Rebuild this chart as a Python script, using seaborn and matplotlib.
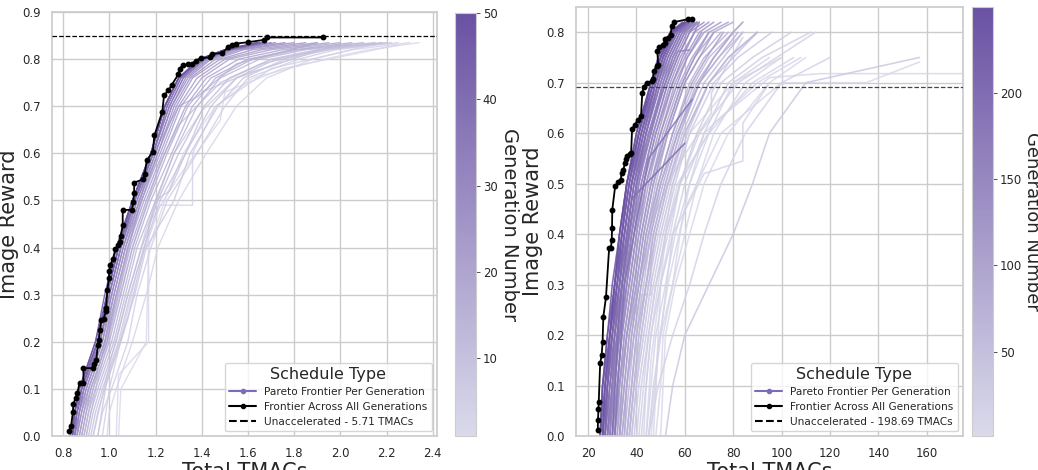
import matplotlib
matplotlib.use("Agg")
import matplotlib.pyplot as plt
import pandas as pd
import seaborn as sns
from matplotlib.colors import LinearSegmentedColormap, Normalize
from matplotlib.cm import ScalarMappable
from matplotlib.lines import Line2D

# ---------------------------------------------------------------------------
# Data
# ---------------------------------------------------------------------------

# left panel: per-generation Pareto frontiers, x (TMACs) at shared reward levels
LEFT_LEVELS = [0.00, 0.05, 0.10, 0.20, 0.30, 0.40, 0.50, 0.60, 0.70, 0.76, 0.80, 0.82, 0.835]
LEFT_GENS = [1, 3, 5, 7, 9, 11, 13, 15, 17, 19, 21, 23, 25, 27, 29, 31, 33, 35, 37, 39, 41, 43, 45, 47, 49]
LEFT_X = [
    [1.04, 1.045, 1.05, 1.16, 1.165, 1.17, 1.24, 1.32, 1.46, 1.62, 1.93, 2.12, 2.34],
    [0.99, 1.00, 1.03, 1.10, 1.16, 1.21, 1.30, 1.42, 1.55, 1.68, 1.88, 2.05, 2.30],
    [0.95, 0.97, 1.01, 1.08, 1.12, 1.18, 1.25, 1.38, 1.50, 1.60, 1.82, 1.98, 2.25],
    [0.93, 0.95, 0.98, 1.05, 1.11, 1.16, 1.28, 1.35, 1.47, 1.58, 1.76, 1.95, 2.22],
    [0.92, 0.94, 0.97, 1.04, 1.09, 1.15, 1.22, 1.33, 1.44, 1.55, 1.72, 1.92, 2.20],
    [0.91, 0.93, 0.96, 1.03, 1.08, 1.14, 1.21, 1.30, 1.41, 1.52, 1.70, 1.90, 2.18],
    [0.90, 0.92, 0.95, 1.02, 1.07, 1.12, 1.20, 1.28, 1.38, 1.48, 1.65, 1.85, 2.15],
    [0.89, 0.91, 0.94, 1.01, 1.06, 1.11, 1.18, 1.27, 1.36, 1.46, 1.62, 1.82, 2.10],
    [0.88, 0.90, 0.93, 1.00, 1.05, 1.10, 1.17, 1.25, 1.34, 1.44, 1.60, 1.80, 2.05],
    [0.88, 0.90, 0.92, 0.99, 1.04, 1.09, 1.16, 1.24, 1.33, 1.42, 1.56, 1.75, 2.00],
    [0.87, 0.89, 0.92, 0.99, 1.03, 1.08, 1.15, 1.23, 1.31, 1.40, 1.52, 1.70, 1.95],
    [0.87, 0.89, 0.91, 0.98, 1.03, 1.08, 1.14, 1.22, 1.30, 1.38, 1.50, 1.66, 1.90],
    [0.86, 0.88, 0.91, 0.98, 1.02, 1.07, 1.14, 1.21, 1.29, 1.36, 1.48, 1.62, 1.85],
    [0.86, 0.88, 0.90, 0.97, 1.02, 1.07, 1.13, 1.21, 1.28, 1.35, 1.46, 1.58, 1.80],
    [0.86, 0.87, 0.90, 0.97, 1.01, 1.06, 1.13, 1.20, 1.27, 1.34, 1.44, 1.56, 1.76],
    [0.85, 0.87, 0.89, 0.96, 1.01, 1.06, 1.12, 1.20, 1.27, 1.33, 1.43, 1.54, 1.72],
    [0.85, 0.87, 0.89, 0.96, 1.00, 1.05, 1.12, 1.19, 1.26, 1.32, 1.42, 1.53, 1.70],
    [0.85, 0.86, 0.89, 0.96, 1.00, 1.05, 1.11, 1.19, 1.26, 1.32, 1.41, 1.52, 1.68],
    [0.85, 0.86, 0.88, 0.96, 1.00, 1.05, 1.11, 1.19, 1.25, 1.31, 1.41, 1.52, 1.67],
    [0.84, 0.86, 0.88, 0.95, 0.99, 1.04, 1.11, 1.19, 1.25, 1.31, 1.40, 1.51, 1.66],
    [0.84, 0.86, 0.88, 0.95, 0.99, 1.04, 1.11, 1.18, 1.24, 1.30, 1.40, 1.51, 1.66],
    [0.84, 0.85, 0.88, 0.95, 0.99, 1.04, 1.10, 1.18, 1.24, 1.30, 1.40, 1.50, 1.65],
    [0.84, 0.85, 0.87, 0.95, 0.99, 1.04, 1.10, 1.18, 1.24, 1.30, 1.39, 1.50, 1.65],
    [0.84, 0.85, 0.87, 0.94, 0.99, 1.03, 1.10, 1.18, 1.24, 1.30, 1.39, 1.50, 1.64],
    [0.83, 0.85, 0.87, 0.94, 0.98, 1.03, 1.10, 1.18, 1.24, 1.30, 1.39, 1.50, 1.64],
]
# a few irregular (stepped) frontiers drawn with their own points
LEFT_EXTRA_GENS = [2, 4, 6, 8, 10, 14]
LEFT_EXTRA_X = [
    [1.03, 1.04, 1.17, 1.17, 1.30, 1.48, 1.50, 1.75, 2.25],
    [0.97, 1.00, 1.12, 1.22, 1.36, 1.36, 1.46, 1.70, 2.18],
    [0.93, 1.00, 1.08, 1.16, 1.28, 1.40, 1.55, 1.85, 2.05],
    [0.95, 0.99, 1.08, 1.20, 1.26, 1.40, 1.40, 1.60, 1.92],
    [0.90, 0.95, 1.02, 1.10, 1.22, 1.30, 1.48, 1.66, 2.00],
    [0.89, 0.93, 1.01, 1.13, 1.17, 1.30, 1.38, 1.55, 1.90],
]
LEFT_EXTRA_Y = [
    [0.00, 0.13, 0.20, 0.45, 0.55, 0.67, 0.73, 0.78, 0.83],
    [0.00, 0.10, 0.35, 0.49, 0.49, 0.60, 0.70, 0.78, 0.835],
    [0.00, 0.15, 0.30, 0.44, 0.60, 0.69, 0.76, 0.81, 0.83],
    [0.00, 0.12, 0.25, 0.50, 0.52, 0.68, 0.73, 0.77, 0.82],
    [0.00, 0.12, 0.25, 0.40, 0.58, 0.66, 0.75, 0.79, 0.83],
    [0.00, 0.10, 0.25, 0.49, 0.58, 0.70, 0.72, 0.79, 0.835],
]
LEFT_FRONT_X = [0.826, 0.835, 0.842, 0.845, 0.854, 0.862, 0.871, 0.888, 0.888, 0.931,
                0.934, 0.943, 0.951, 0.954, 0.960, 0.964, 0.975, 0.986, 0.986, 0.992,
                0.998, 1.000, 1.003, 1.015, 1.026, 1.039, 1.046, 1.049, 1.058, 1.058,
                1.097, 1.104, 1.107, 1.108, 1.147, 1.153, 1.162, 1.188, 1.195, 1.229,
                1.237, 1.256, 1.270, 1.299, 1.306, 1.317, 1.342, 1.357, 1.375, 1.395,
                1.436, 1.444, 1.489, 1.513, 1.532, 1.548, 1.601, 1.671, 1.681, 1.926]
LEFT_FRONT_Y = [0.011, 0.022, 0.050, 0.069, 0.080, 0.092, 0.112, 0.112, 0.144, 0.144,
                0.152, 0.161, 0.193, 0.203, 0.225, 0.246, 0.249, 0.265, 0.272, 0.311,
                0.335, 0.350, 0.362, 0.375, 0.396, 0.405, 0.412, 0.424, 0.447, 0.480,
                0.480, 0.497, 0.515, 0.538, 0.545, 0.556, 0.585, 0.603, 0.638, 0.688,
                0.723, 0.734, 0.745, 0.768, 0.780, 0.787, 0.789, 0.790, 0.797, 0.802,
                0.804, 0.811, 0.813, 0.825, 0.830, 0.833, 0.836, 0.841, 0.846, 0.846]
LEFT_BASELINE = 0.85

# right panel
RIGHT_LEVELS = [0.00, 0.10, 0.20, 0.30, 0.40, 0.50, 0.60, 0.70, 0.75, 0.80, 0.82]
RIGHT_GENS = [2, 3, 5, 8, 10, 12, 15, 18, 20, 25, 30, 35, 40, 45, 50, 55,
              60, 65, 70, 75, 80, 85, 90, 95, 100, 105, 110, 115, 120, 125, 130, 135, 140, 145,
              150, 155, 160, 165, 170, 175, 180, 185, 190, 195, 200, 205, 210, 215, 220, 225,
              230, 235, 240, 245, 250]
RIGHT_X = [
    [50, 51, 52, 56, 62, 68, 78, 95, 110],
    [46, 48, 49, 50, 52, 55, 62, 80, 100],
    [48, 50, 51, 55, 58, 62, 68, 90, 108],
    [45, 47, 50, 55, 60, 65, 72, 85, 100],
    [43, 44, 46, 49, 52, 57, 70, 88, 105],
    [44, 46, 48, 52, 56, 62, 70, 80, 95],
    [45, 49, 55, 62, 68, 75, 85, 100, 120],
    [41, 43, 45, 48, 53, 58, 66, 82, 98, 114],
    [42, 44, 46, 50, 55, 60, 68, 78, 92, 112],
    [40, 42, 45, 48, 52, 58, 65, 75, 88, 104],
    [39, 41, 44, 47, 51, 56, 62, 72, 82, 96],
    [52, 55, 60, 70, 80, 88, 95, 110, 157],
    [38, 40, 42, 45, 49, 54, 60, 70, 80, 90],
    [38, 40, 43, 46, 50, 55, 61, 70, 78, 90],
    [37, 39, 41, 44, 47, 52, 58, 66, 74, 84],
    [37, 39, 42, 45, 48, 53, 59, 68, 76, 84],
    [36, 38, 40, 43, 46, 50, 56, 64, 70, 80, 84],
    [37, 39, 41, 44, 48, 53, 60, 70, 78, 90],
    [35, 37, 39, 42, 45, 49, 55, 62, 68, 78],
    [36, 38, 40, 44, 47, 52, 58, 66, 74, 82],
    [34, 36, 38, 41, 44, 48, 53, 60, 66, 75],
    [35, 36, 39, 42, 46, 51, 57, 65, 72, 80, 84],
    [33, 35, 37, 40, 43, 47, 52, 59, 64, 72, 80],
    [34, 36, 38, 41, 45, 50, 57, 66, 72, 80],
    [32, 34, 36, 39, 42, 46, 51, 58, 63, 70, 78],
    [33, 35, 37, 41, 44, 49, 55, 63, 69, 76],
    [32, 33, 35, 38, 41, 45, 50, 56, 61, 68, 75],
    [33, 34, 36, 40, 43, 47, 53, 60, 66, 72],
    [31, 33, 35, 38, 41, 44, 49, 55, 60, 66, 72],
    [31, 33, 36, 39, 42, 46, 52, 59, 64, 70],
    [30, 32, 34, 37, 40, 43, 48, 54, 58, 64, 70],
    [31, 32, 34, 37, 40, 44, 50, 57, 61, 67],
    [30, 31, 33, 36, 39, 42, 47, 53, 57, 62, 68],
    [30, 32, 34, 36, 39, 43, 48, 55, 59, 64, 66],
    [29, 31, 33, 35, 38, 41, 46, 52, 56, 61, 66],
    [29, 30, 33, 36, 38, 42, 47, 53, 57, 62, 65],
    [29, 30, 32, 35, 37, 40, 45, 51, 55, 60, 65],
    [28, 30, 33, 35, 38, 41, 45, 52, 55, 60, 64],
    [28, 30, 32, 34, 37, 40, 44, 50, 54, 59, 64],
    [28, 30, 31, 34, 37, 40, 46, 51, 54, 59, 63],
    [28, 29, 31, 34, 36, 39, 44, 49, 53, 58, 63],
    [27, 29, 32, 34, 37, 40, 44, 50, 53, 58, 62],
    [27, 29, 31, 33, 36, 39, 43, 49, 52, 57, 62],
    [27, 28, 31, 33, 36, 39, 44, 49, 52, 57, 62],
    [27, 28, 30, 33, 35, 38, 43, 48, 52, 56, 62],
    [26, 28, 30, 33, 35, 38, 43, 48, 51, 56, 61],
    [27, 28, 30, 32, 35, 38, 42, 48, 51, 56, 61],
    [26, 27, 30, 32, 35, 38, 42, 48, 51, 55, 60],
    [26, 28, 29, 32, 34, 37, 42, 47, 51, 55, 61],
    [25, 27, 29, 32, 34, 37, 41, 47, 50, 55, 60],
    [26, 27, 29, 31, 34, 37, 41, 47, 50, 55, 60],
    [25, 26, 29, 31, 34, 36, 41, 46, 50, 54, 60],
    [26, 27, 29, 31, 33, 36, 41, 46, 50, 54, 60],
    [25, 26, 28, 31, 33, 36, 40, 46, 49, 54, 59],
    [25, 26, 28, 30, 33, 36, 40, 46, 49, 54, 60],
]
RIGHT_EXTRA_GENS = [4, 6, 12, 20, 160, 190, 200]
RIGHT_EXTRA_X = [
    [47, 49, 53, 60, 75, 100, 135, 157],
    [44, 46, 50, 58, 72, 95, 116, 180],
    [45, 50, 55, 68, 84, 84, 95],
    [36, 40, 42, 46, 46, 55, 71, 71, 84],
    [29, 34, 42, 52, 57, 62],
    [31, 35, 45, 63],
    [30, 33, 38, 60],
]
RIGHT_EXTRA_Y = [
    [0.00, 0.18, 0.30, 0.45, 0.60, 0.70, 0.70, 0.741],
    [0.00, 0.15, 0.30, 0.50, 0.62, 0.71, 0.718, 0.718],
    [0.00, 0.20, 0.40, 0.52, 0.545, 0.62, 0.70],
    [0.00, 0.20, 0.28, 0.28, 0.42, 0.52, 0.64, 0.68, 0.79],
    [0.00, 0.30, 0.55, 0.70, 0.762, 0.765],
    [0.00, 0.30, 0.55, 0.667],
    [0.00, 0.25, 0.47, 0.58],
]
RIGHT_FRONT_X = [24.0, 24.1, 24.3, 24.4, 25.0, 25.6, 26.0, 26.3, 27.4, 28.7, 29.4, 29.8,
                 29.9, 30.0, 31.2, 32.5, 33.5, 33.9, 34.6, 35.3, 35.7, 36.2, 37.3, 37.8,
                 38.2, 39.4, 40.5, 41.9, 42.4, 43.1, 44.2, 46.3, 46.7, 47.4, 48.3, 49.0,
                 48.6, 49.4, 51.1, 51.8, 52.0, 53.1, 54.1, 54.6, 55.5, 61.4, 62.8]
RIGHT_FRONT_Y = [0.012, 0.032, 0.054, 0.067, 0.144, 0.160, 0.186, 0.236, 0.275, 0.372, 0.372, 0.389,
                 0.412, 0.448, 0.495, 0.503, 0.508, 0.521, 0.528, 0.541, 0.548, 0.554, 0.558, 0.560,
                 0.609, 0.617, 0.626, 0.634, 0.680, 0.692, 0.700, 0.703, 0.707, 0.723, 0.733, 0.736,
                 0.763, 0.770, 0.774, 0.778, 0.786, 0.789, 0.794, 0.813, 0.820, 0.826, 0.826]
RIGHT_BASELINE = 0.692

CMAP = LinearSegmentedColormap.from_list("gen", ["#dadaeb", "#6a51a3"])


def to_long(levels, gens, xs_rows, extra_gens, extra_x, extra_y):
    rows = []
    line = 0
    for g, xs in zip(gens, xs_rows):
        for x, y in zip(xs, levels):
            rows.append({"line": line, "gen": g, "x": x, "y": y})
        line += 1
    for g, xs, ys in zip(extra_gens, extra_x, extra_y):
        for x, y in zip(xs, ys):
            rows.append({"line": line, "gen": g, "x": x, "y": y})
        line += 1
    return pd.DataFrame(rows).sort_values(["gen", "line"], kind="stable")


def draw_panel(ax, cax, df, gmax, front_x, front_y, baseline, base_label,
               base_color, xlim, ylim, cticks, cb_pad, cb_size, lw):
    norm = Normalize(1, gmax)
    sns.lineplot(data=df, x="x", y="y", hue="gen", units="line", estimator=None,
                 sort=False, palette=CMAP, hue_norm=norm, linewidth=lw,
                 alpha=0.85, legend=False, ax=ax)
    ax.plot(front_x, front_y, color="black", marker="o", ms=3.2, lw=1.3, zorder=5)
    ax.axhline(baseline, color=base_color, ls="--", lw=0.9, zorder=4)
    ax.set_xlim(*xlim)
    ax.set_ylim(*ylim)
    ax.set_xlabel("Total TMACs", fontsize=15, labelpad=1)
    ax.set_ylabel("Image Reward", fontsize=15, labelpad=2)
    ax.tick_params(labelsize=8.4, pad=2)

    handles = [
        Line2D([], [], color="#7e6bb8", marker="o", ms=3, lw=1.5),
        Line2D([], [], color="black", marker="o", ms=3, lw=1.5),
        Line2D([], [], color="black", ls="--", lw=1.5),
    ]
    labels = ["Pareto Frontier Per Generation", "Frontier Across All Generations",
              base_label]
    ax.legend(handles, labels, title="Schedule Type", loc="lower right",
              fontsize=7.6, title_fontsize=11.5, frameon=True,
              handlelength=2.5, labelspacing=0.45)

    sm = ScalarMappable(norm=norm, cmap=CMAP)
    cb = plt.colorbar(sm, cax=cax, ticks=cticks)
    cb.outline.set_edgecolor("#cccccc")
    cb.outline.set_linewidth(0.8)
    cb.ax.tick_params(labelsize=8.4, length=3, width=0.6, color="#333333", pad=2)
    cb.set_label("Generation Number", rotation=270, fontsize=cb_size, labelpad=cb_pad)


def main():
    sns.set_theme(style="whitegrid")
    fig = plt.figure(figsize=(10.38, 4.70), dpi=100)

    ax_l = fig.add_axes([0.0501, 0.0723, 0.3709, 0.9021])
    cax_l = fig.add_axes([0.4383, 0.0723, 0.0202, 0.9000])
    ax_r = fig.add_axes([0.5549, 0.0723, 0.3728, 0.9128])
    cax_r = fig.add_axes([0.9364, 0.0723, 0.0202, 0.9128])

    df_l = to_long(LEFT_LEVELS, LEFT_GENS, LEFT_X,
                   LEFT_EXTRA_GENS, LEFT_EXTRA_X, LEFT_EXTRA_Y)
    df_r = to_long(RIGHT_LEVELS, RIGHT_GENS, RIGHT_X,
                   RIGHT_EXTRA_GENS, RIGHT_EXTRA_X, RIGHT_EXTRA_Y)

    draw_panel(ax_l, cax_l, df_l, 50, LEFT_FRONT_X, LEFT_FRONT_Y, LEFT_BASELINE,
               "Unaccelerated - 5.71 TMACs", "black", (0.752, 2.418), (0, 0.9),
               [10, 20, 30, 40, 50], 15, 14, 1.0)
    draw_panel(ax_r, cax_r, df_r, 250, RIGHT_FRONT_X, RIGHT_FRONT_Y, RIGHT_BASELINE,
               "Unaccelerated - 198.69 TMACs", "#444444", (15, 175), (0, 0.85),
               [50, 100, 150, 200], 13.5, 13, 1.15)

    fig.savefig("out.png", dpi=100)
    plt.close(fig)


if __name__ == "__main__":
    main()
